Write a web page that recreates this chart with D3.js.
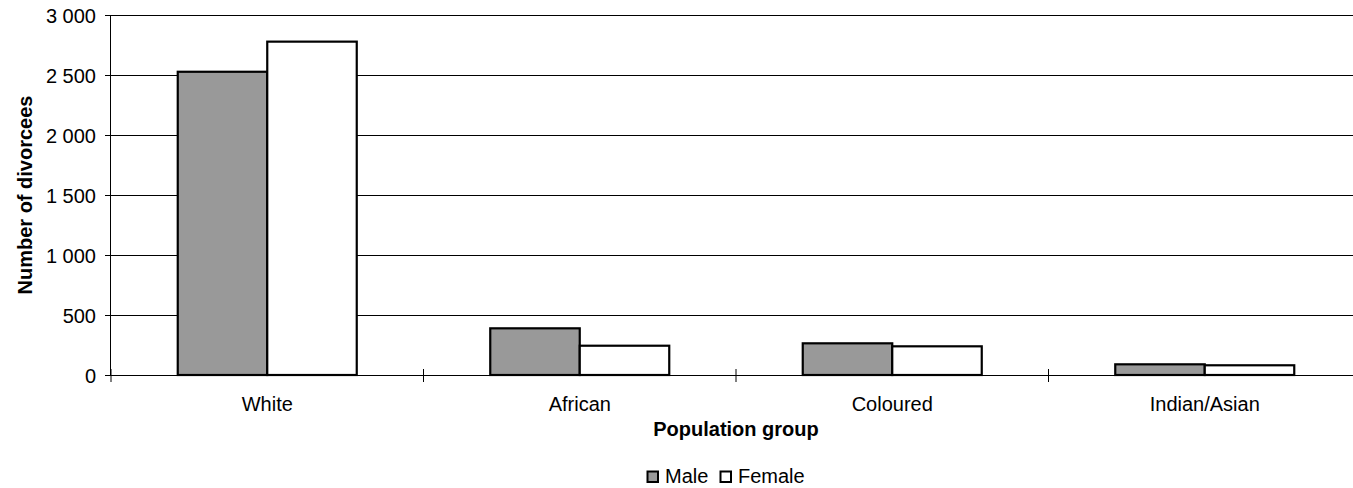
<!DOCTYPE html>
<html><head><meta charset="utf-8">
<script src="https://cdn.jsdelivr.net/npm/d3@7"></script>
<style>html,body{margin:0;padding:0;background:#fff;}svg{display:block;font-family:Arial,"Liberation Sans",sans-serif;}</style>
</head><body>
<svg id="c" width="1353" height="488"></svg>
<script>
const categories = ["White", "African", "Coloured", "Indian/Asian"];
const seriesNames = ["Male", "Female"];
const maleValues = [2527, 389, 264, 89];
const femaleValues = [2778, 244, 239, 81];
const yTicks = [0, 500, 1000, 1500, 2000, 2500, 3000];
const colors = ["#999999", "#ffffff"];

(function () {
const FONT = "Arial, 'Liberation Sans', sans-serif";
const svg = d3.select("#c");
const mLeft = 111, mTop = 15, mBottom = 375, bandW = 312.5;
const mRight = mLeft + bandW * categories.length;
const x = d3.scaleBand().domain(categories).range([mLeft, mRight]).paddingInner(0).paddingOuter(0);
const y = d3.scaleLinear().domain([0, 3000]).range([mBottom, mTop]);
const fmt = v => d3.format(",")(v).replace(/,/g, " ");

// gridlines
svg.append("g").selectAll("line").data(yTicks.filter(t => t > 0)).join("line")
  .attr("x1", mLeft).attr("x2", 1353).attr("y1", d => y(d) + 0.5).attr("y2", d => y(d) + 0.5)
  .attr("stroke", "#000").attr("stroke-width", 1);

// y axis
const yAxis = d3.axisLeft(y).tickValues(yTicks).tickFormat(fmt).tickSize(6).tickPadding(9);
const gy = svg.append("g").attr("transform", `translate(${mLeft},0)`).call(yAxis);
gy.select(".domain").attr("stroke", "#000").attr("d", `M-0.5,${mTop}V${mBottom}`);
gy.selectAll(".tick line").attr("stroke", "#000").attr("x1", 5);
gy.selectAll("text").attr("font-size", 20).attr("fill", "#000").attr("font-family", FONT).attr("dy", "0.35em");

// bars
const inner = d3.scaleBand().domain(seriesNames).range([0, 179]);
const groups = svg.append("g").selectAll("g").data(categories).join("g")
  .attr("transform", d => `translate(${x(d) + bandW / 2 - 89.5},0)`);
groups.selectAll("rect").data((d, i) => [maleValues[i], femaleValues[i]].map((v, j) => ({ v, s: seriesNames[j], j })))
  .join("rect")
  .attr("x", d => inner(d.s)).attr("width", inner.bandwidth())
  .attr("y", d => y(d.v)).attr("height", d => y(0) - y(d.v))
  .attr("fill", d => colors[d.j]).attr("stroke", "#000").attr("stroke-width", 2.2);

// x axis
const xAxis = d3.axisBottom(x).tickSize(0).tickPadding(22);
const gx = svg.append("g").attr("transform", `translate(0,${mBottom})`).call(xAxis);
gx.select(".domain").attr("d", `M${mLeft},0.5H1353`).attr("stroke", "#000");
gx.selectAll("text").attr("font-size", 20).attr("fill", "#000").attr("font-family", FONT);
// category separator ticks (cross)
svg.append("g").selectAll("line").data(d3.range(categories.length + 1)).join("line")
  .attr("x1", i => mLeft + i * bandW).attr("x2", i => mLeft + i * bandW)
  .attr("y1", mBottom - 6).attr("y2", mBottom + 7).attr("stroke", "#000");

// axis titles
svg.append("text").attr("x", (mLeft + mRight) / 2).attr("y", 436).attr("text-anchor", "middle")
  .attr("font-family", FONT).attr("font-size", 20).attr("font-weight", "bold").text("Population group");
svg.append("text").attr("transform", `translate(32,${(mTop + mBottom) / 2}) rotate(-90)`).attr("text-anchor", "middle")
  .attr("font-family", FONT).attr("font-size", 20).attr("font-weight", "bold").text("Number of divorcees");

// legend
const lg = svg.append("g").attr("transform", "translate(646,470)");
const items = [{ n: "Male", c: colors[0], x: 0 }, { n: "Female", c: colors[1], x: 73 }];
items.forEach(it => {
  lg.append("rect").attr("x", it.x + 1.5).attr("y", 1.5).attr("width", 10.5).attr("height", 10.5)
    .attr("fill", it.c).attr("stroke", "#000").attr("stroke-width", 2);
  lg.append("text").attr("x", it.x + 19).attr("y", 13).attr("font-family", FONT).attr("font-size", 20).text(it.n);
});
})();
</script>
</body></html>
